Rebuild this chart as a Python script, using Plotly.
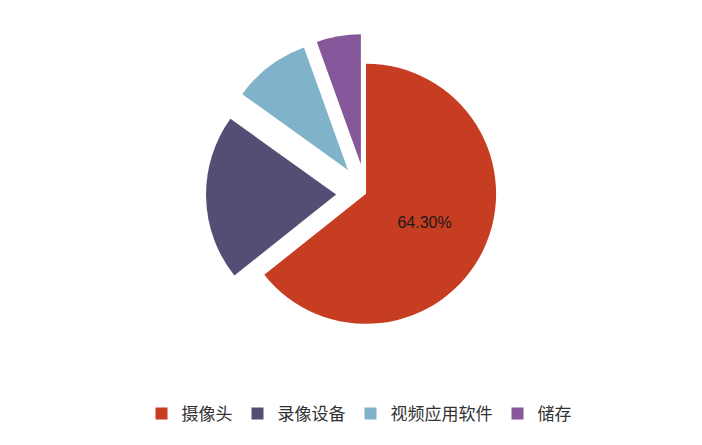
import plotly.graph_objects as go

labels = ['摄像头', '录像设备', '视频应用软件', '储存']
shares = [64.3, 20.6, 9.6, 5.5]
slice_text = ['64.30%', '', '', '']
colors = ['#C63D22', '#524E74', '#80B3C9', '#86579A']
pulls = [0, 0.23, 0.23, 0.23]

fig = go.Figure(go.Pie(
    labels=labels, values=shares, text=slice_text,
    textinfo='text', textposition='inside', insidetextorientation='horizontal',
    textfont=dict(family='Liberation Sans, Arial', size=16, color='#1a1a1a'),
    sort=False, direction='clockwise', rotation=0, pull=pulls,
    marker=dict(colors=colors, line=dict(width=0)),
    domain=dict(x=[0.282, 0.738], y=[0.223, 0.942]),
    hoverinfo='label+percent',
))

fig.update_layout(
    width=702, height=445,
    margin=dict(l=0, r=0, t=0, b=0),
    paper_bgcolor='white', plot_bgcolor='white',
    font=dict(family='Noto Sans CJK SC', color='#333333'),
    legend=dict(orientation='h', x=0.5, xanchor='center', y=0.088, yanchor='middle',
                font=dict(size=17, color='#333333'), itemwidth=30, traceorder='normal'),
)

fig.write_html('out.html')
